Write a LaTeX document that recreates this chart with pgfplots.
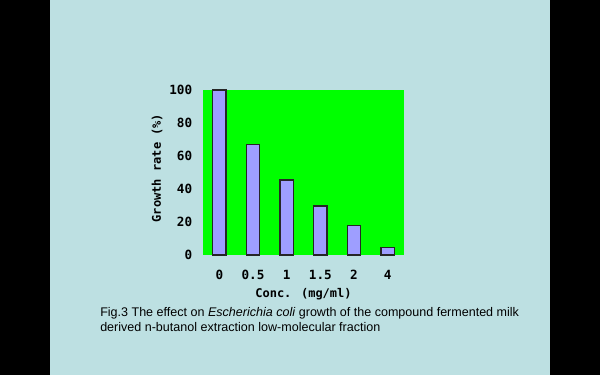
\documentclass[border=0pt]{standalone}
\usepackage{pgfplots}
\pgfplotsset{compat=1.18}
\usepackage{fontspec}
\setmainfont{Liberation Sans}
\newfontfamily\gothic{DejaVu Sans Mono}
\definecolor{bgblue}{HTML}{BDE0E2}
\definecolor{plotgreen}{HTML}{00FF00}
\definecolor{barfill}{HTML}{9E9EFF}
\begin{document}
\begin{tikzpicture}[x=0.75pt,y=0.75pt]
\fill[black] (0,0) rectangle (600,375);
\fill[bgblue] (50,0) rectangle (550,375);
\begin{axis}[
  at={(151.875pt,90pt)}, anchor=south west,
  scale only axis, width=151.5pt, height=123.75pt,
  axis background/.style={fill=plotgreen},
  axis line style={draw=none},
  ymin=0, ymax=100, xmin=-0.5, xmax=5.5,
  ytick={0,20,40,60,80,100},
  xtick=data, xticklabels={0,0.5,1,1.5,2,4},
  major tick length=0pt,
  /pgf/number format/assume math mode=true,
  ybar, bar width=10pt,
  clip=false,
  tick label style={font=\gothic\bfseries\fontsize{9.5}{10}\selectfont},
  yticklabel style={inner sep=0pt, xshift=-7.5pt},
  xticklabel style={inner sep=0pt, yshift=-11pt},
  xlabel={Conc. (mg/ml)},
  ylabel={Growth rate (\%)},
  label style={font=\gothic\bfseries\fontsize{9}{10}\selectfont},
  xlabel style={at={(axis description cs:0.5,-0.24)}, anchor=center},
  ylabel style={at={(axis description cs:-0.2252,0.527)}, anchor=center},
]
\addplot[fill=barfill, draw=black!85, line width=0.9pt] coordinates {(0,100) (1,67) (2,45.5) (3,29.7) (4,17.8) (5,4.6)};
\end{axis}
\node[anchor=base west, inner sep=0pt, font=\fontsize{9.4}{10}\selectfont] at (100,58) {Fig.3 The effect on \textit{Escherichia coli} growth of the compound fermented milk};
\node[anchor=base west, inner sep=0pt, font=\fontsize{9.4}{10}\selectfont] at (100,43.5) {derived n-butanol extraction low-molecular fraction};
\end{tikzpicture}
\end{document}
